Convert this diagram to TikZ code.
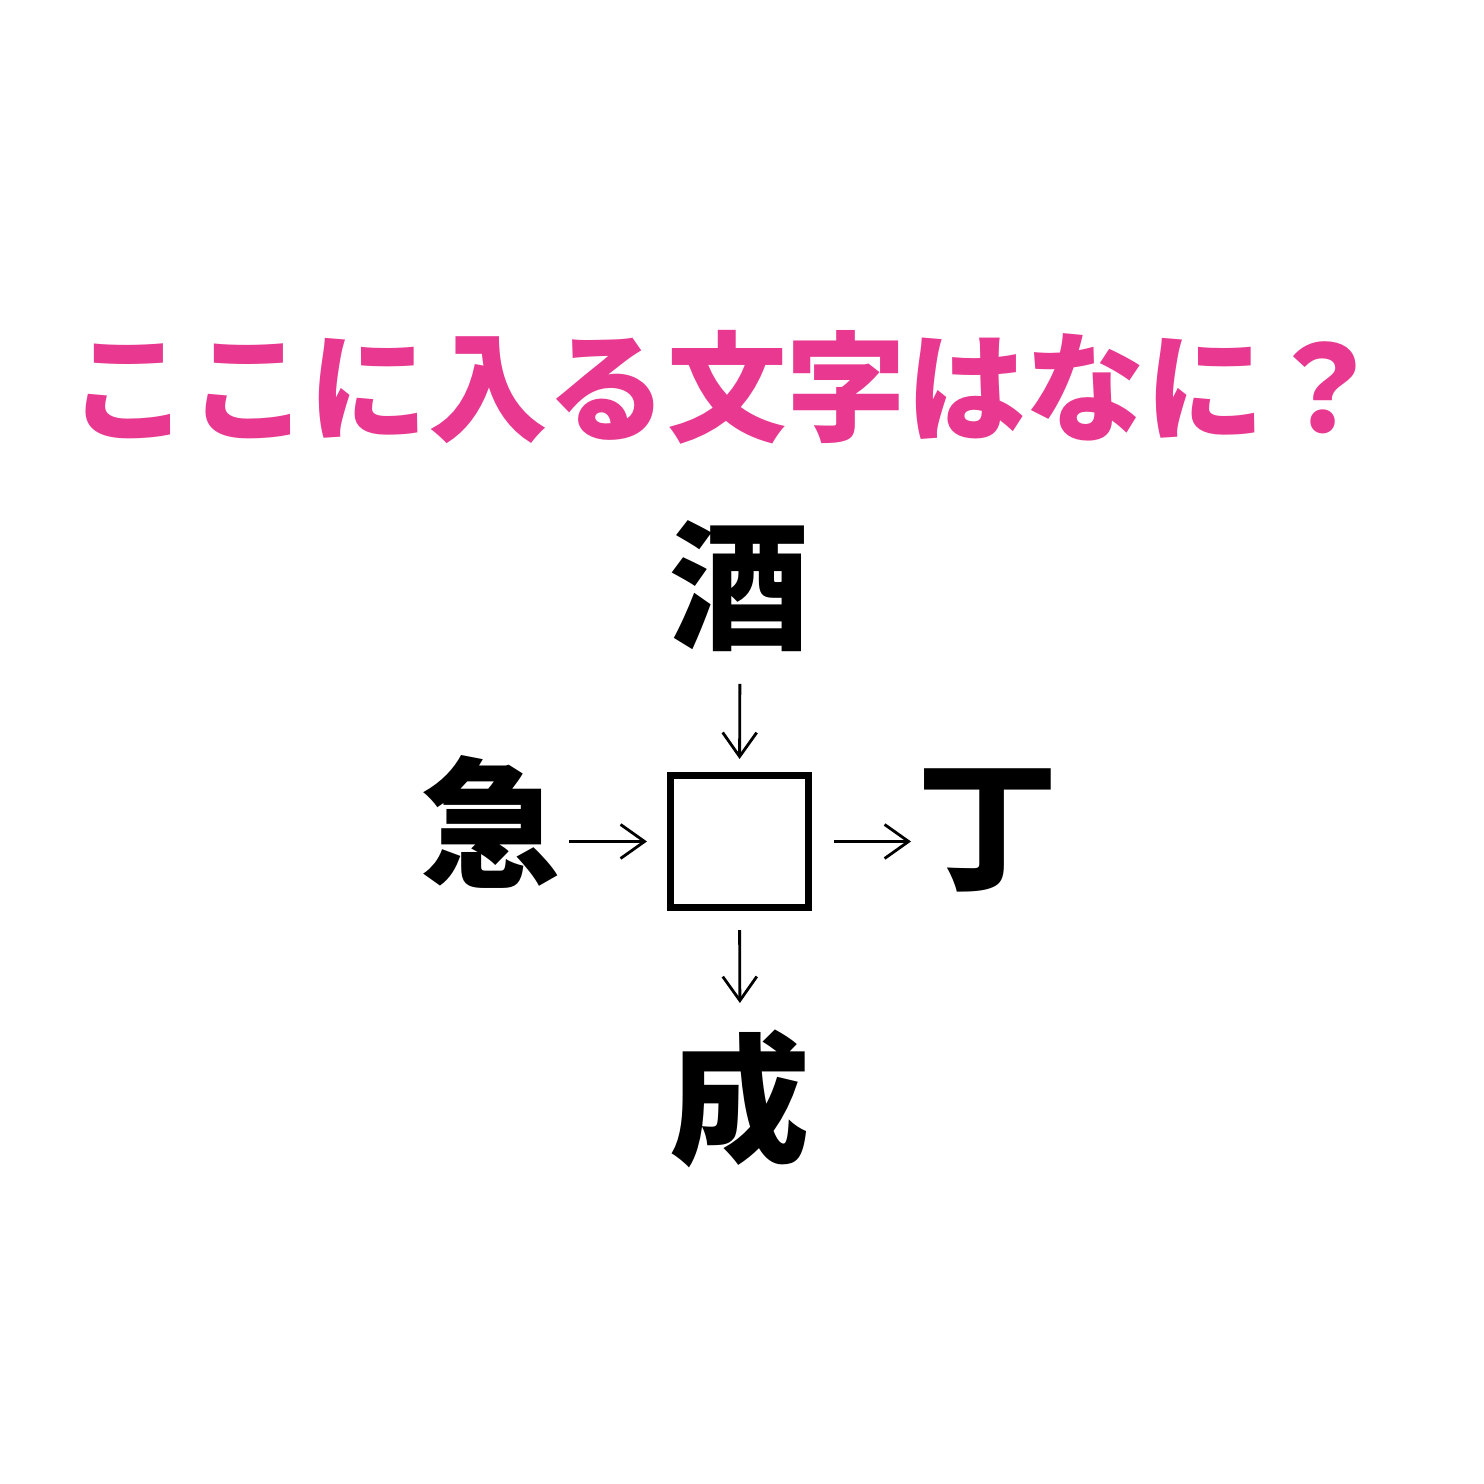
\documentclass[tikz,border=0pt]{standalone}
\usepackage{fontspec}
\usepackage{xcolor}
\usetikzlibrary{arrows.meta,positioning,calc}
\newfontfamily\cjk{Noto Sans CJK JP}
\definecolor{quizpink}{HTML}{E8388F}

\begin{document}
\begin{tikzpicture}[
    kanji/.style={font=\cjk\bfseries\fontsize{40}{40}\selectfont, inner sep=0pt, text height=35.2pt, text depth=4.8pt},
    blank/.style={draw, line width=2pt, minimum width=1.38cm, minimum height=1.32cm, inner sep=0pt},
    arr/.style={-{Straight Barb[length=2.4mm,width=3.4mm]}, line width=0.8pt}
]
    % Canvas
    \fill[white] (0,0) rectangle (14.84,14.84);
    \useasboundingbox (0,0) rectangle (14.84,14.84);

    % Title
    \node[font=\cjk\bfseries\fontsize{34}{34}\selectfont, text=quizpink, inner sep=0pt] (title) at (7.27,10.97) {ここに入る文字はなに？};

    % Blank square and the four characters
    \node[blank] (box) at (7.395,6.425) {};
    \node[kanji] (sake) at (7.40,8.99) {酒};
    \node[kanji] (kyu) at (4.91,6.61) {急};
    \node[kanji] (cho) at (9.88,6.58) {丁};
    \node[kanji] (sei) at (7.40,3.85) {成};

    % Arrows
    \draw[arr, shorten <=0.28cm, shorten >=0.13cm] (sake.south) -- (box.north);
    \draw[arr, shorten <=0.07cm, shorten >=0.20cm] (kyu.east |- box.west) -- (box.west);
    \draw[arr, shorten <=0.22cm, shorten >=0.06cm] (box.east) -- (cho.west |- box.east);
    \draw[arr, shorten <=0.19cm, shorten >=0.25cm] (box.south) -- (sei.north);
\end{tikzpicture}
\end{document}
